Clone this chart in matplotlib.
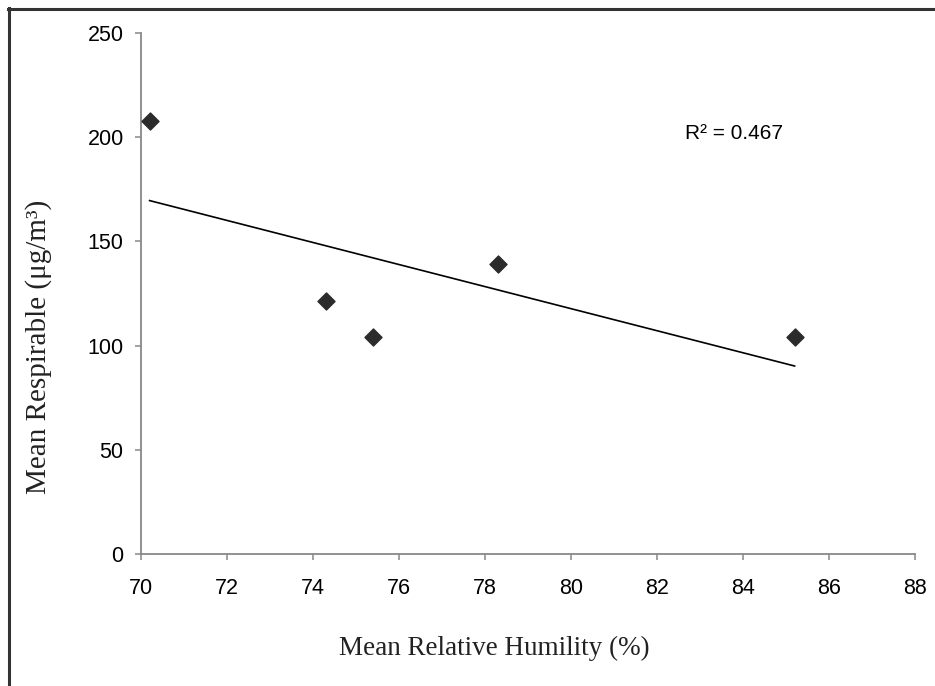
import numpy as np
import matplotlib
matplotlib.use("Agg")
import matplotlib.pyplot as plt
from matplotlib.lines import Line2D

# データ
humidity = [70.2, 74.3, 75.4, 78.3, 85.2]
respirable = [208, 121.5, 104, 139, 104]
x_ticks = [70, 72, 74, 76, 78, 80, 82, 84, 86, 88]
y_ticks = [0, 50, 100, 150, 200, 250]
r2_text = "R² = 0.467"

fig = plt.figure(figsize=(9.35, 6.86), dpi=100)
ax = fig.add_axes([0.1508, 0.1924, 0.8278, 0.7595])

# 外枠（左と上だけ）
fig.add_artist(Line2D([0.0095, 0.0095], [0, 0.988], transform=fig.transFigure,
                      color="#333333", lw=2.2))
fig.add_artist(Line2D([0.0085, 1.0], [0.987, 0.987], transform=fig.transFigure,
                      color="#333333", lw=2.2))

ax.scatter(humidity, respirable, marker="D", s=75, color="#2b2b2b", zorder=3,
           clip_on=False)

# 近似直線
slope, icpt = np.polyfit(humidity, respirable, 1)
xs = np.array([min(humidity), max(humidity)])
ax.plot(xs, slope * xs + icpt, color="black", lw=1.2)

ax.set_xlim(70, 88)
ax.set_ylim(0, 250)
ax.set_xticks(x_ticks)
ax.set_yticks(y_ticks)

for s in ["top", "right"]:
    ax.spines[s].set_visible(False)
for s in ["left", "bottom"]:
    ax.spines[s].set_color("#888888")
    ax.spines[s].set_linewidth(1.3)
ax.tick_params(direction="out", length=4.5, width=1.1, color="#888888",
               labelsize=15.5, labelcolor="black")
ax.tick_params(axis="x", pad=13)
ax.tick_params(axis="y", pad=8)
for lbl in ax.get_xticklabels() + ax.get_yticklabels():
    lbl.set_fontfamily("Liberation Sans")

ax.text(82.65, 202, r2_text, fontsize=15, family="Liberation Sans", va="center")

# 軸ラベル（元図では少しずれた位置）
fig.text(0.529, 0.055, "Mean Relative Humility (%)", fontsize=19.5,
         family="Liberation Serif", color="#222222", ha="center", va="center")
fig.text(0.041, 0.495, "Mean Respirable (\u03bcg/m\u00b3)", fontsize=21,
         family="Liberation Serif", color="#222222", ha="center", va="center",
         rotation=90)

fig.savefig("out.png", dpi=100, facecolor="white")
plt.close(fig)
